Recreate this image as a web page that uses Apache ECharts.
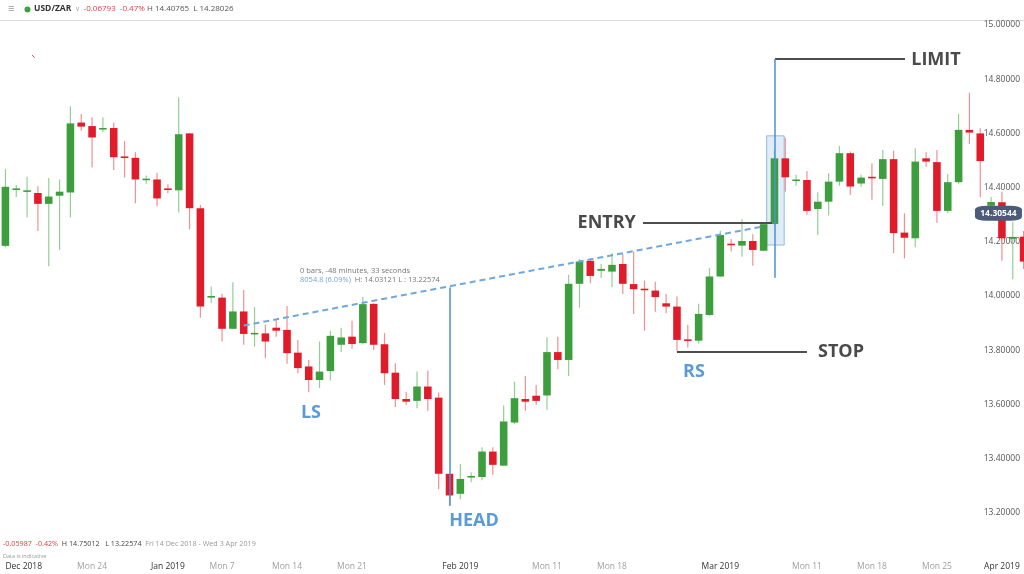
<!DOCTYPE html>
<html><head><meta charset="utf-8">
<script src="https://cdn.jsdelivr.net/npm/echarts@6/dist/echarts.min.js"></script>
<style>html,body{margin:0;padding:0;background:#fff}#c{width:1024px;height:574px}</style>
</head><body><div id="c"></div>
<script>
const dates = ['2018-12-14','2018-12-16','2018-12-17','2018-12-18','2018-12-19','2018-12-20','2018-12-21',
'2018-12-23','2018-12-24','2018-12-25','2018-12-26','2018-12-27','2018-12-28',
'2018-12-30','2018-12-31','2019-01-01','2019-01-02','2019-01-03','2019-01-04',
'2019-01-06','2019-01-07','2019-01-08','2019-01-09','2019-01-10','2019-01-11',
'2019-01-13','2019-01-14','2019-01-15','2019-01-16','2019-01-17','2019-01-18',
'2019-01-20','2019-01-21','2019-01-22','2019-01-23','2019-01-24','2019-01-25',
'2019-01-27','2019-01-28','2019-01-29','2019-01-30','2019-01-31','2019-02-01',
'2019-02-03','2019-02-04','2019-02-05','2019-02-06','2019-02-07','2019-02-08',
'2019-02-10','2019-02-11','2019-02-12','2019-02-13','2019-02-14','2019-02-15',
'2019-02-17','2019-02-18','2019-02-19','2019-02-20','2019-02-21','2019-02-22',
'2019-02-24','2019-02-25','2019-02-26','2019-02-27','2019-02-28','2019-03-01',
'2019-03-03','2019-03-04','2019-03-05','2019-03-06','2019-03-07','2019-03-08',
'2019-03-10','2019-03-11','2019-03-12','2019-03-13','2019-03-14','2019-03-15',
'2019-03-17','2019-03-18','2019-03-19','2019-03-20','2019-03-21','2019-03-22',
'2019-03-24','2019-03-25','2019-03-26','2019-03-27','2019-03-28','2019-03-29',
'2019-03-31','2019-04-01','2019-04-02','2019-04-03'];

const openV = [14.185,14.393,14.386,14.380,14.340,14.370,14.382, 14.640,14.627,14.615,14.620,14.515,14.510,
14.430,14.430,14.397,14.390,14.600,14.324, 13.998,13.994,13.879,13.943,13.862,13.862,
13.883,13.875,13.791,13.740,13.690,13.723, 13.820,13.850,13.826,13.971,13.822,13.717,
13.620,13.613,13.666,13.625,13.344,13.270, 13.330,13.332,13.426,13.374,13.533,13.620,
13.632,13.633,13.793,13.764,14.045,14.130, 14.093,14.090,14.118,14.044,14.027,14.020,
13.973,13.961,13.840,13.835,13.930,14.072, 14.193,14.186,14.203,14.167,14.266,14.508,
14.427,14.428,14.321,14.348,14.422,14.527, 14.415,14.440,14.432,14.505,14.234,14.213,
14.508,14.494,14.314,14.420,14.613,14.600, 14.333,14.346,14.211,14.219];

const closeV = [14.403,14.397,14.390,14.340,14.367,14.385,14.637, 14.625,14.585,14.620,14.512,14.510,14.430,
14.433,14.360,14.393,14.597,14.324,13.961, 14.000,13.879,13.943,13.860,13.864,13.832,
13.872,13.789,13.734,13.690,13.721,13.853, 13.847,13.823,13.970,13.820,13.715,13.620,
13.610,13.666,13.620,13.344,13.264,13.325, 13.336,13.426,13.377,13.537,13.623,13.610,
13.613,13.793,13.764,14.045,14.127,14.074, 14.100,14.115,14.045,14.025,14.022,13.996,
13.961,13.838,13.836,13.934,14.072,14.225, 14.190,14.203,14.170,14.265,14.508,14.438,
14.430,14.314,14.348,14.422,14.527,14.404, 14.437,14.437,14.505,14.232,14.215,14.496,
14.496,14.314,14.420,14.613,14.603,14.498, 14.347,14.213,14.218,14.127];

const lowV = [14.180,14.365,14.290,14.240,14.110,14.170,14.290, 14.610,14.474,14.605,14.465,14.437,14.342,
14.414,14.330,14.380,14.308,14.246,13.920, 13.974,13.832,13.877,13.820,13.813,13.770,
13.850,13.750,13.715,13.645,13.660,13.688, 13.793,13.805,13.824,13.801,13.672,13.590,
13.598,13.586,13.576,13.287,13.226,13.250, 13.313,13.320,13.340,13.374,13.527,13.577,
13.598,13.580,13.730,13.705,13.957,14.047, 14.066,14.032,14.007,13.934,13.872,13.942,
13.936,13.795,13.810,13.825,13.927,14.070, 14.164,14.145,14.112,14.165,14.260,14.385,
14.407,14.300,14.225,14.297,14.407,14.373, 14.403,14.355,14.332,14.158,14.139,14.180,
14.477,14.270,14.305,14.414,14.561,14.364, 14.320,14.130,14.062,14.100];

const highV = [14.469,14.410,14.440,14.405,14.435,14.430,14.700, 14.672,14.660,14.660,14.640,14.572,14.530,
14.445,14.455,14.412,14.733,14.602,14.336, 14.035,14.008,14.051,14.022,13.959,13.895,
13.914,13.963,13.838,13.764,13.832,13.872, 13.883,13.909,13.996,13.973,13.863,13.752,
13.647,13.721,13.725,13.644,13.344,13.380, 13.350,13.442,13.442,13.596,13.684,13.705,
13.672,13.848,13.850,14.078,14.136,14.139, 14.118,14.158,14.155,14.164,14.057,14.053,
14.007,13.998,13.893,13.971,14.103,14.241, 14.210,14.283,14.228,14.268,14.540,14.584,
14.447,14.461,14.383,14.453,14.554,14.533, 14.447,14.490,14.539,14.536,14.305,14.545,
14.530,14.539,14.450,14.672,14.750,14.619, 14.365,14.385,14.274,14.240];

const tickDates = ['2018-12-14','2018-12-24','2019-01-01','2019-01-07','2019-01-14','2019-01-21','2019-02-01',
'2019-02-11','2019-02-18','2019-03-01','2019-03-11','2019-03-18','2019-03-25','2019-04-01'];
const tickTexts = ['Dec 2018','Mon 24','Jan 2019','Mon 7','Mon 14','Mon 21','Feb 2019',
'Mon 11','Mon 18','Mar 2019','Mon 11','Mon 18','Mon 25','Apr 2019'];

// annotation levels (price) and positions (bar index on hidden value axis)
const necklineStart = [22, 13.891], necklineEnd = [70, 14.257];
const measureBar = 41, measureHigh = 14.03121, measureLow = 13.22574;
const entryPrice = 14.270, entryFrom = 58.86, entryTo = 70.77;
const stopPrice = 13.796, stopFrom = 62.0, stopTo = 74.0;
const limitPrice = 14.875, limitFrom = 71.05, limitTo = 83.05, limitDropTo = 14.067;
const boxFrom = [70.28, 14.591], boxTo = [71.9, 14.188];
const lastPrice = 14.30544;

const UP = '#3d9e3d', DOWN = '#e01b2a', UPW = '#93cf93', DOWNW = '#f29090';
const FONT = '"Open Sans", sans-serif';

const candleData = dates.map((d, i) => [i, openV[i], closeV[i], lowV[i], highV[i]]);

function renderCandle(params, api) {
  const i = api.value(0), o = api.value(1), c = api.value(2), l = api.value(3), h = api.value(4);
  const pO = api.coord([i, o]), pC = api.coord([i, c]), pL = api.coord([i, l]), pH = api.coord([i, h]);
  const bw = api.size([1, 0])[0] * 0.7;
  const up = c >= o;
  const top = Math.min(pO[1], pC[1]), bot = Math.max(pO[1], pC[1]);
  const x = pO[0];
  return {type: 'group', children: [
    {type: 'line', shape: {x1: x, y1: pH[1], x2: x, y2: pL[1]}, style: {stroke: up ? UPW : DOWNW, lineWidth: 1.2}},
    {type: 'rect', shape: {x: x - bw / 2, y: top, width: bw, height: Math.max(bot - top, 1.6)}, style: {fill: up ? UP : DOWN}}
  ]};
}

function txt(coord, text, size, color, extra) {
  return Object.assign({
    coord: coord, symbol: 'circle', symbolSize: 1, itemStyle: {color: 'rgba(0,0,0,0)'},
    label: {show: true, position: 'inside', formatter: text, fontSize: size, color: color,
      fontWeight: 'bold', fontFamily: FONT}
  }, extra || {});
}

const chart = echarts.init(document.getElementById('c'), null, {renderer: 'canvas'});
chart.setOption({
  animation: false,
  backgroundColor: '#ffffff',
  grid: {left: 0, top: 25, width: 1029, height: 542, containLabel: false, outerBoundsMode: 'none'},
  xAxis: [{
    type: 'category', data: dates, boundaryGap: true,
    axisLine: {show: false}, axisTick: {show: false}, splitLine: {show: false},
    axisLabel: {
      interval: (idx, val) => tickDates.indexOf(val) >= 0,
      formatter: (val) => { const t = tickTexts[tickDates.indexOf(val)]; return t.indexOf('Mon') === 0 ? '{d|' + t + '}' : '{m|' + t + '}'; },
      margin: 0, verticalAlign: 'middle', alignMinLabel: 'left',
      rich: {m: {fontSize: 8.5, color: '#333', fontFamily: FONT}, d: {fontSize: 8.5, color: '#a0a0a0', fontFamily: FONT}}
    }
  }, {
    type: 'value', min: -0.5, max: 94.5, show: false
  }],
  yAxis: {
    type: 'value', position: 'right', min: 13.0, max: 15.0, interval: 0.2,
    axisLine: {show: false}, axisTick: {show: false}, splitLine: {show: false},
    axisLabel: {inside: true, margin: 9, fontSize: 8.5, color: '#555', fontFamily: FONT,
      formatter: (v) => v < 13.1 ? '' : v.toFixed(5)}
  },
  series: [{
    type: 'custom', name: 'USD/ZAR', xAxisIndex: 0, yAxisIndex: 0,
    renderItem: renderCandle, encode: {x: 0, y: [1, 2, 3, 4]}, data: candleData, z: 3
  }, {
    type: 'line', xAxisIndex: 1, yAxisIndex: 0, data: [], z: 5, silent: true,
    markArea: {silent: true, itemStyle: {color: 'rgba(120,170,225,0.22)', borderColor: 'rgba(110,160,220,0.7)', borderWidth: 1},
      data: [[{coord: boxFrom}, {coord: boxTo}]]},
    markLine: {silent: true, symbol: ['none', 'none'], label: {show: false}, animation: false,
      data: [
        [{coord: necklineStart, lineStyle: {color: '#6fa8dc', width: 2, type: [6, 4]}}, {coord: necklineEnd}],
        [{coord: [measureBar, measureHigh], lineStyle: {color: '#4a90d9', width: 1.5, type: 'solid'}}, {coord: [measureBar, measureLow]}],
        [{coord: [entryFrom, entryPrice], lineStyle: {color: '#4d4d4d', width: 2, type: 'solid'}}, {coord: [entryTo, entryPrice]}],
        [{coord: [stopFrom, stopPrice], lineStyle: {color: '#4d4d4d', width: 2, type: 'solid'}}, {coord: [stopTo, stopPrice]}],
        [{coord: [limitFrom, limitPrice], lineStyle: {color: '#4d4d4d', width: 2, type: 'solid'}}, {coord: [limitTo, limitPrice]}],
        [{coord: [limitFrom, limitPrice], lineStyle: {color: '#4a90d9', width: 1.5, type: 'solid'}}, {coord: [limitFrom, limitDropTo]}]
      ]},
    markPoint: {silent: true, animation: false,
      data: [
        txt([28.21, 13.570], 'LS', 18, '#5b9bd5'),
        txt([43.26, 13.170], 'HEAD', 18, '#5b9bd5'),
        txt([63.57, 13.721], 'RS', 18, '#5b9bd5'),
        txt([55.51, 14.270], 'ENTRY', 18, '#4a4a4a'),
        txt([77.14, 13.794], 'STOP', 18, '#4a4a4a'),
        txt([85.91, 14.872], 'LIMIT', 18, '#4a4a4a'),
        {coord: [27.2, 14.0764], symbol: 'circle', symbolSize: 1, itemStyle: {color: 'rgba(0,0,0,0)'},
          label: {show: true, position: 'inside', align: 'left', verticalAlign: 'middle', lineHeight: 9,
            formatter: '{g|0 bars, -48 minutes, 33 seconds}\n{b|8054.8 (6.09%)}{g|  H: 14.03121 L : 13.22574}',
            rich: {g: {fontSize: 7.5, color: '#777', fontFamily: FONT, lineHeight: 9}, b: {fontSize: 7.5, color: '#6fa8dc', fontFamily: FONT, lineHeight: 9}}}},
        {coord: [91.68, lastPrice], symbol: 'roundRect', symbolSize: [47, 15], itemStyle: {color: '#4b5b78'},
          label: {show: true, position: 'inside', formatter: lastPrice.toFixed(5), color: '#fff', fontSize: 8.5, fontWeight: 'bold', fontFamily: FONT}}
      ]}
  }],
  graphic: [
    {type: 'line', shape: {x1: 0, y1: 20.5, x2: 1024, y2: 20.5}, style: {stroke: '#dcdcdc', lineWidth: 1}},
    {type: 'text', left: 8, top: 3, style: {text: '≡', fontSize: 11, fill: '#9a9a9a', fontFamily: FONT}},
    {type: 'circle', shape: {cx: 27.5, cy: 9.5, r: 3}, style: {fill: '#3ca03c'}},
    {type: 'text', left: 34, top: 4, style: {
      text: '{n|USD/ZAR}{v|  ∨  }{r|-0.06793  -0.47%}{k| H 14.40765  L 14.28026}',
      rich: {n: {fontSize: 8.5, fontWeight: 'bold', fill: '#333', fontFamily: FONT},
             v: {fontSize: 7, fill: '#aaa', fontFamily: FONT},
             r: {fontSize: 8, fill: '#e0404a', fontFamily: FONT},
             k: {fontSize: 8, fill: '#555', fontFamily: FONT}}}},
    {type: 'line', shape: {x1: 32, y1: 55, x2: 34.5, y2: 57.5}, style: {stroke: '#e05050', lineWidth: 1}},
    {type: 'text', left: 3, top: 540, style: {
      text: '{r|-0.05987  -0.42%}{k|  H 14.75012   L 13.22574}{g|  Fri 14 Dec 2018 - Wed 3 Apr 2019}',
      rich: {r: {fontSize: 7.2, fill: '#e0404a', fontFamily: FONT},
             k: {fontSize: 7.2, fill: '#444', fontFamily: FONT},
             g: {fontSize: 7.2, fill: '#999', fontFamily: FONT}}}},
    {type: 'text', left: 3, top: 553, style: {text: 'Data is indicative', fontSize: 5.5, fill: '#999', fontFamily: FONT}}
  ]
});
</script></body></html>
